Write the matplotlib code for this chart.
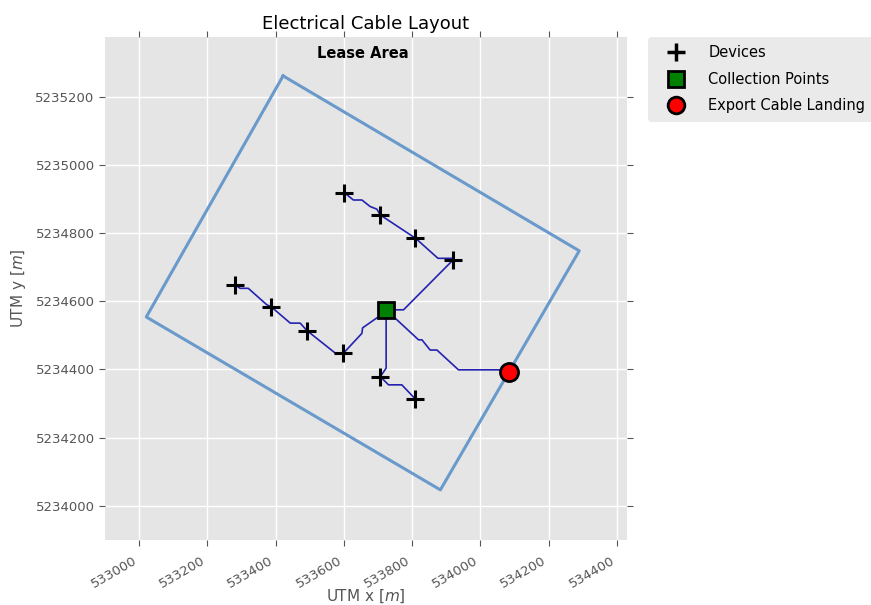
import matplotlib
matplotlib.use("Agg")
import matplotlib.pyplot as plt
from matplotlib.lines import Line2D

plt.style.use("ggplot")

# Lease area polygon (closed)
lease_x = [533422, 534290, 533883, 533021, 533422]
lease_y = [5235261, 5234748, 5234047, 5234554, 5235261]

# Devices
dev_x = [533601, 533707, 533810, 533920, 533282, 533387, 533492, 533599, 533707, 533810]
dev_y = [5234919, 5234853, 5234785, 5234720, 5234648, 5234584, 5234514, 5234448, 5234379, 5234313]

# Collection point
cp_x = [533724]
cp_y = [5234575]

# Export cable landing
land_x = [534085]
land_y = [5234394]

# Cable routes
cable1_x = [533601, 533628, 533653, 533677, 533697, 533707, 533810, 533876, 533917, 533920, 533775, 533751, 533724]
cable1_y = [5234919, 5234897, 5234897, 5234878, 5234870, 5234853, 5234785, 5234726, 5234726, 5234721, 5234575, 5234575, 5234575]

cable2_x = [533282, 533296, 533320, 533374, 533387, 533443, 533472, 533492, 533575, 533599, 533653, 533655, 533702, 533724]
cable2_y = [5234648, 5234638, 5234638, 5234590, 5234584, 5234536, 5234536, 5234514, 5234448, 5234448, 5234506, 5234522, 5234555, 5234575]

cable3_x = [533724, 533724, 533707, 533731, 533770, 533810]
cable3_y = [5234575, 5234404, 5234379, 5234355, 5234355, 5234313]

export_x = [533724, 533751, 533819, 533829, 533853, 533873, 533936, 534078, 534085]
export_y = [5234575, 5234550, 5234487, 5234487, 5234457, 5234457, 5234399, 5234399, 5234394]

x_ticks = [533000, 533200, 533400, 533600, 533800, 534000, 534200, 534400]
y_ticks = [5234000, 5234200, 5234400, 5234600, 5234800, 5235000, 5235200]

plt.rcParams['font.family'] = ['DejaVu Sans']

fig = plt.figure(figsize=(8.71, 6.05), dpi=100)
fig.patch.set_facecolor("white")
ax = fig.add_axes([105/871, 65/605, 522/871, 503/605])
ax.set_facecolor("#E5E5E5")

ax.plot(lease_x, lease_y, color="#6A9ACB", lw=2.2, zorder=2)

cable_color = "#2323B0"
for cx, cy in [(cable1_x, cable1_y), (cable2_x, cable2_y), (cable3_x, cable3_y), (export_x, export_y)]:
    ax.plot(cx, cy, color=cable_color, lw=1.2, zorder=3)

ax.plot(dev_x, dev_y, linestyle="none", marker="+", color="black", markersize=13, mew=2.2, zorder=4)
ax.plot(cp_x, cp_y, linestyle="none", marker="s", markerfacecolor="green", markeredgecolor="black",
        markersize=12, mew=2, zorder=4)
ax.plot(land_x, land_y, linestyle="none", marker="o", markerfacecolor="red", markeredgecolor="black",
        markersize=13, mew=2, zorder=4)

ax.text(533655, 5235328, "Lease Area", fontsize=10.5, fontweight="bold", ha="center", va="center", color="black")

ax.set_xlim(532900, 534430)
ax.set_ylim(5233900, 5235375)
ax.set_xticks(x_ticks)
ax.set_yticks(y_ticks)
ax.set_xticklabels([str(v) for v in x_ticks], rotation=30, ha="right")
ax.set_yticklabels([str(v) for v in y_ticks])
ax.tick_params(axis="both", which="both", direction="out", top=True, right=True,
               colors="#555555", labelsize=9.5, length=4)
ax.tick_params(axis="x", pad=6)
ax.grid(True, color="white", lw=1)
for s in ax.spines.values():
    s.set_visible(False)

ax.set_title("Electrical Cable Layout", fontsize=13, color="black", pad=6)
ax.set_xlabel("UTM x [$m$]", fontsize=11, color="#555555")
ax.set_ylabel("UTM y [$m$]", fontsize=11, color="#555555")
ax.xaxis.set_label_coords(0.5, -0.095)
ax.yaxis.set_label_coords(-0.148, 0.5)

handles = [
    Line2D([], [], linestyle="none", marker="+", color="black", markersize=13, mew=2.5),
    Line2D([], [], linestyle="none", marker="s", markerfacecolor="green", markeredgecolor="black", markersize=12, mew=2),
    Line2D([], [], linestyle="none", marker="o", markerfacecolor="red", markeredgecolor="black", markersize=12, mew=2),
]
leg = ax.legend(handles, ["Devices", "Collection Points", "Export Cable Landing"],
                loc="upper left", bbox_to_anchor=(1.04, 1.0), borderaxespad=0,
                frameon=True, fontsize=10.5, numpoints=1, handlelength=2.7,
                handletextpad=0.9, labelspacing=0.8, borderpad=0.55)
leg.get_frame().set_facecolor("#E5E5E5")
leg.get_frame().set_edgecolor("#E5E5E5")

fig.savefig("out.png", dpi=100)
